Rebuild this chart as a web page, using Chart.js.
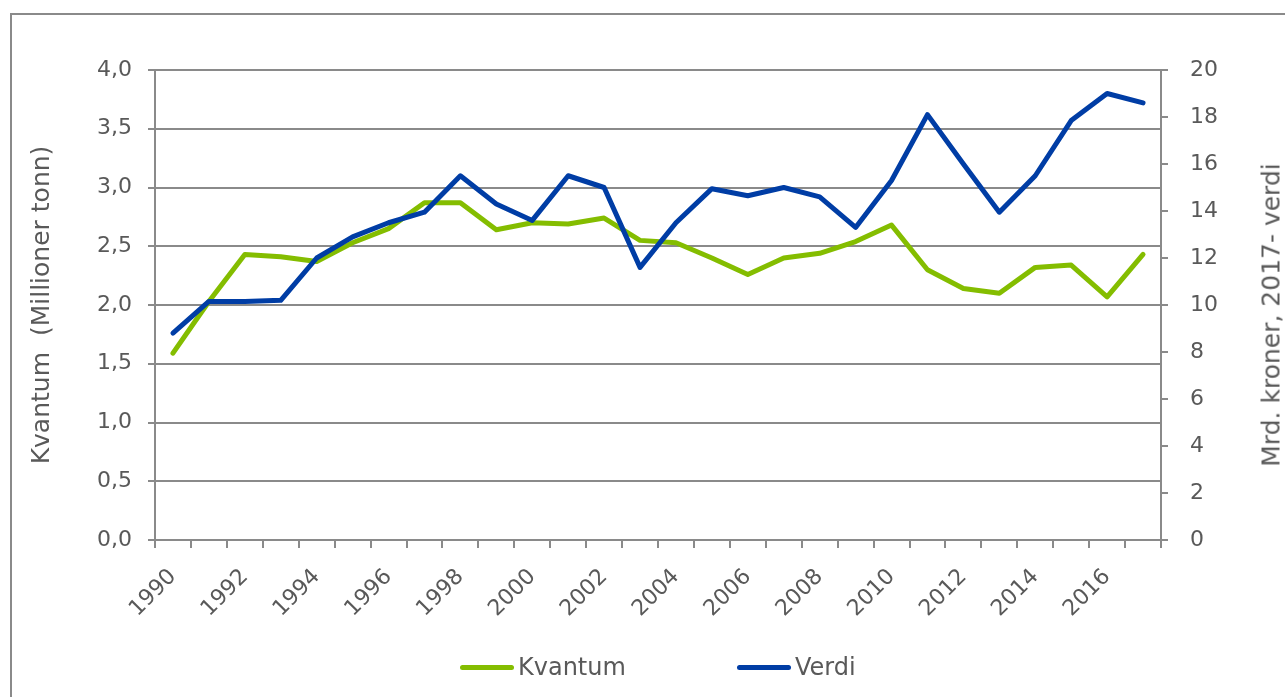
<!DOCTYPE html>
<html lang="no">
<head>
<meta charset="UTF-8">
<script src="https://cdn.jsdelivr.net/npm/chart.js"></script>
<title>Kvantum og verdi</title>
<style>
    body { margin: 0; overflow: hidden; background: #fff; font-family: Verdana, "DejaVu Sans", sans-serif; }
    #frame { position: absolute; left: 10px; top: 13px; width: 1300px; height: 700px; border: 2px solid #8a8a8a; }
    #wrap { position: absolute; left: 0; top: 0; width: 1285px; height: 697px; }
    .legend-item { position: absolute; top: 652px; font-size: 24px; color: #595959; line-height: 30px; white-space: nowrap; }
    .legend-line { display: inline-block; width: 54px; height: 5px; border-radius: 3px; vertical-align: middle; margin-right: 4px; position: relative; top: -1px; }
    #hoyreTittel { position: absolute; left: 1271px; top: 315px; transform: translate(-50%, -50%) rotate(-90deg);
        white-space: nowrap; font-size: 25px; color: #595959; }
</style>
</head>
<body>
<div id="frame"></div>
<div id="wrap"><canvas id="chart" width="1285" height="697"></canvas></div>
<div class="legend-item" style="left:460px"><span class="legend-line" style="background:#84bd00"></span>Kvantum</div>
<div class="legend-item" style="left:737px"><span class="legend-line" style="background:#003da5"></span>Verdi</div>
<div id="hoyreTittel">Mrd. kroner, 2017- verdi</div>

<script>
    // år
    const aar = ['1990', '1991', '1992', '1993', '1994', '1995', '1996', '1997', '1998', '1999',
        '2000', '2001', '2002', '2003', '2004', '2005', '2006', '2007', '2008', '2009',
        '2010', '2011', '2012', '2013', '2014', '2015', '2016', '2017'];

    // millioner tonn (venstre akse)
    const kvantum = [1.59, 2.03, 2.43, 2.41, 2.37, 2.53, 2.65, 2.87, 2.87, 2.64,
        2.70, 2.69, 2.74, 2.55, 2.53, 2.40, 2.26, 2.40, 2.44, 2.54,
        2.68, 2.30, 2.14, 2.10, 2.32, 2.34, 2.07, 2.43];

    // mrd. kroner, 2017-verdi (høyre akse)
    const verdi = [8.8, 10.15, 10.15, 10.2, 12.0, 12.9, 13.5, 13.95, 15.5, 14.3,
        13.6, 15.5, 15.0, 11.6, 13.5, 14.95, 14.65, 15.0, 14.6, 13.3,
        15.3, 18.1, 16.0, 13.95, 15.5, 17.85, 19.0, 18.6];

    const tekstFarge = '#595959';
    const linjeFarge = '#8a8a8a';
    const font = { family: 'Verdana, "DejaVu Sans", sans-serif', size: 22 };

    var ctx = document.getElementById('chart').getContext('2d');
    var chart = new Chart(ctx, {
        type: 'line',
        data: {
            labels: aar,
            datasets: [{
                label: 'Kvantum',
                data: kvantum,
                yAxisID: 'y',
                borderColor: '#84bd00',
                borderWidth: 5,
                pointRadius: 0,
                tension: 0,
                borderCapStyle: 'round',
                borderJoinStyle: 'round',
                order: 1
            }, {
                label: 'Verdi',
                data: verdi,
                yAxisID: 'y1',
                borderColor: '#003da5',
                borderWidth: 5,
                pointRadius: 0,
                tension: 0,
                borderCapStyle: 'round',
                borderJoinStyle: 'round',
                order: 0
            }]
        },
        options: {
            responsive: false,
            animation: false,
            layout: { padding: { top: 70, bottom: 57, left: 0, right: 0 } },
            plugins: {
                legend: { display: false },
                tooltip: { enabled: false }
            },
            scales: {
                x: {
                    offset: true,
                    grid: { offset: true, drawOnChartArea: false, drawTicks: true, tickLength: 8, color: linjeFarge, lineWidth: 2 },
                    border: { color: linjeFarge, width: 2 },
                    ticks: {
                        autoSkip: false,
                        minRotation: 45,
                        maxRotation: 45,
                        padding: 16,
                        color: tekstFarge,
                        font: font,
                        callback: function (v, i) { return i % 2 === 0 ? aar[i] : ''; }
                    },
                    afterFit: function (scale) { scale.height = 100; }
                },
                y: {
                    position: 'left',
                    min: 0,
                    max: 4,
                    grid: { color: linjeFarge, lineWidth: 2, tickLength: 7 },
                    border: { color: linjeFarge, width: 2 },
                    ticks: {
                        stepSize: 0.5,
                        padding: 16,
                        color: tekstFarge,
                        font: font,
                        callback: function (v) { return v.toFixed(1).replace('.', ','); }
                    },
                    title: {
                        display: true,
                        text: 'Kvantum  (Millioner tonn)',
                        color: tekstFarge,
                        font: { family: font.family, size: 25 },
                        padding: { top: 27, bottom: 0 }
                    },
                    afterFit: function (scale) { scale.width = 155; }
                },
                y1: {
                    position: 'right',
                    min: 0,
                    max: 20,
                    grid: { drawOnChartArea: false, color: linjeFarge, lineWidth: 2, tickLength: 7 },
                    border: { color: linjeFarge, width: 2 },
                    ticks: {
                        stepSize: 2,
                        padding: 22,
                        color: tekstFarge,
                        font: font
                    },
                    afterFit: function (scale) { scale.width = 124; }
                }
            }
        }
    });
</script>
</body>
</html>
